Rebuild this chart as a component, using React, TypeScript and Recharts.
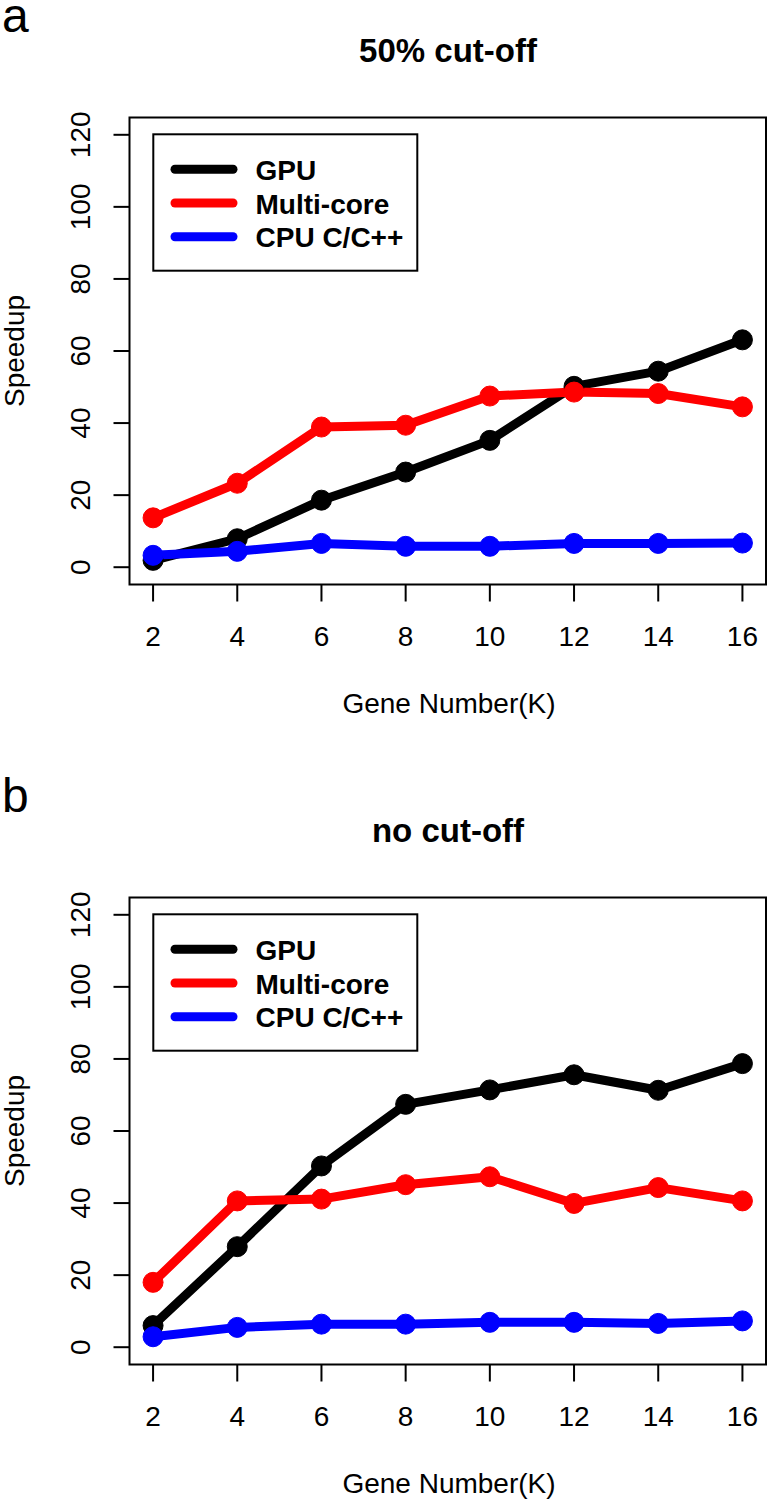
import React from 'react';
import { LineChart, Line, XAxis, YAxis, ReferenceArea, Legend } from 'recharts';

const geneNumbers = [2, 4, 6, 8, 10, 12, 14, 16];

// panel a: 50% cut-off
const gpuCutoff = [1.9, 7.9, 18.6, 26.4, 35.2, 50.2, 54.4, 63.1];
const multiCutoff = [13.7, 23.3, 38.9, 39.4, 47.5, 48.6, 48.2, 44.5];
const cpuCutoff = [3.3, 4.4, 6.6, 5.8, 5.8, 6.6, 6.6, 6.7];

// panel b: no cut-off
const gpuNoCutoff = [6.0, 27.9, 50.3, 67.4, 71.4, 75.6, 71.3, 78.7];
const multiNoCutoff = [18.0, 40.6, 41.1, 45.1, 47.3, 39.9, 44.3, 40.6];
const cpuNoCutoff = [2.9, 5.5, 6.4, 6.4, 6.9, 6.9, 6.6, 7.3];

const xTicks = [2, 4, 6, 8, 10, 12, 14, 16];
const yTicks = [0, 20, 40, 60, 80, 100, 120];

const seriesNames = ['GPU', 'Multi-core', 'CPU C/C++'];
const seriesKeys = ['gpu', 'multi', 'cpu'];
const seriesColors = ['#000000', '#ff0000', '#0000ff'];

const FONT = '"Liberation Sans", Arial, Helvetica, sans-serif';
const W = 770;
const H = 780;
const PANEL_B_TOP = 779.5;

// R style: axis range padded by 4% on each side
const xDomain = [1.44, 16.56];
const yDomain = [-4.8, 124.8];

const XTick = (props: any) => (
  <text x={props.x} y={646} textAnchor="middle" fontFamily={FONT} fontSize={28} fill="#000">
    {props.payload.value}
  </text>
);

const YTick = (props: any) => (
  <text
    x={90}
    y={props.y}
    transform={`rotate(-90 90 ${props.y})`}
    textAnchor="middle"
    fontFamily={FONT}
    fontSize={28}
    fill="#000"
  >
    {props.payload.value}
  </text>
);

const LegendBox = () => (
  <svg width={268} height={140} style={{ display: 'block' }}>
    <rect x={1.3} y={1.3} width={264} height={136.4} fill="#fff" stroke="#000" strokeWidth={2} />
    {seriesNames.map((name, i) => {
      const ly = 36.3 + i * 33.7;
      return (
        <g key={name}>
          <line x1={23} x2={81} y1={ly} y2={ly} stroke={seriesColors[i]} strokeWidth={9} strokeLinecap="round" />
          <text x={103.5} y={ly + 10.7} fontFamily={FONT} fontWeight="bold" fontSize={28} fill="#000">
            {name}
          </text>
        </g>
      );
    })}
  </svg>
);

type PanelProps = {
  title: string;
  gpu: number[];
  multi: number[];
  cpu: number[];
  top: number;
};

const Panel = ({ title, gpu, multi, cpu, top }: PanelProps) => {
  const data = geneNumbers.map((x, i) => ({ x, gpu: gpu[i], multi: multi[i], cpu: cpu[i] }));

  return (
    <div style={{ position: 'absolute', left: 0, top, width: W, height: H }}>
      <LineChart
        width={W}
        height={H}
        data={data}
        margin={{ top: 117.5, right: 4, bottom: 95.5, left: 29.5 }}
      >
        <XAxis
          dataKey="x"
          type="number"
          domain={xDomain}
          ticks={xTicks}
          allowDataOverflow
          height={100}
          axisLine={false}
          tickSize={17}
          tickLine={{ stroke: '#000', strokeWidth: 2 }}
          tick={XTick}
          label={{
            content: () => (
              <text x={449} y={713} textAnchor="middle" fontFamily={FONT} fontSize={28} fill="#000">
                Gene Number(K)
              </text>
            ),
          }}
        />
        <YAxis
          type="number"
          domain={yDomain}
          ticks={yTicks}
          allowDataOverflow
          width={100}
          axisLine={false}
          tickSize={16}
          tickLine={{ stroke: '#000', strokeWidth: 2 }}
          tick={YTick}
          label={{
            content: () => (
              <text
                x={24}
                y={351}
                transform="rotate(-90 24 351)"
                textAnchor="middle"
                fontFamily={FONT}
                fontSize={28}
                fill="#000"
              >
                Speedup
              </text>
            ),
          }}
        />
        <ReferenceArea
          x1={xDomain[0]}
          x2={xDomain[1]}
          y1={yDomain[0]}
          y2={yDomain[1]}
          fill="none"
          stroke="#000"
          strokeWidth={2}
          ifOverflow="visible"
        />
        {seriesKeys.map((key, i) => (
          <Line
            key={key}
            dataKey={key}
            name={seriesNames[i]}
            type="linear"
            stroke={seriesColors[i]}
            strokeWidth={9}
            strokeLinejoin="round"
            dot={{ r: 10, fill: seriesColors[i], stroke: seriesColors[i], strokeWidth: 1 }}
            isAnimationActive={false}
          />
        ))}
        <Legend
          layout="vertical"
          align="center"
          verticalAlign="middle"
          content={LegendBox}
          wrapperStyle={{ position: 'absolute', left: 152, top: 133, width: 268, height: 140 }}
        />
      </LineChart>
      <svg
        width={W}
        height={100}
        style={{ position: 'absolute', left: 0, top: 0, pointerEvents: 'none' }}
      >
        <text x={448} y={62} textAnchor="middle" fontFamily={FONT} fontWeight="bold" fontSize={33} fill="#000">
          {title}
        </text>
      </svg>
    </div>
  );
};

export default function App() {
  return (
    <div
      style={{
        position: 'absolute',
        left: 0,
        top: 0,
        width: W,
        height: 1499,
        overflow: 'hidden',
        background: '#fff',
      }}
    >
      <Panel title="50% cut-off" gpu={gpuCutoff} multi={multiCutoff} cpu={cpuCutoff} top={0} />
      <Panel title="no cut-off" gpu={gpuNoCutoff} multi={multiNoCutoff} cpu={cpuNoCutoff} top={PANEL_B_TOP} />
      {/* panel letters drawn on a page-wide layer so they are not clipped by the panels */}
      <svg
        width={W}
        height={1499}
        style={{ position: 'absolute', left: 0, top: 0, pointerEvents: 'none' }}
      >
        <text x={2} y={32} fontFamily={FONT} fontSize={48} fill="#000">
          a
        </text>
        <text x={2} y={PANEL_B_TOP + 32} fontFamily={FONT} fontSize={48} fill="#000">
          b
        </text>
      </svg>
    </div>
  );
}
